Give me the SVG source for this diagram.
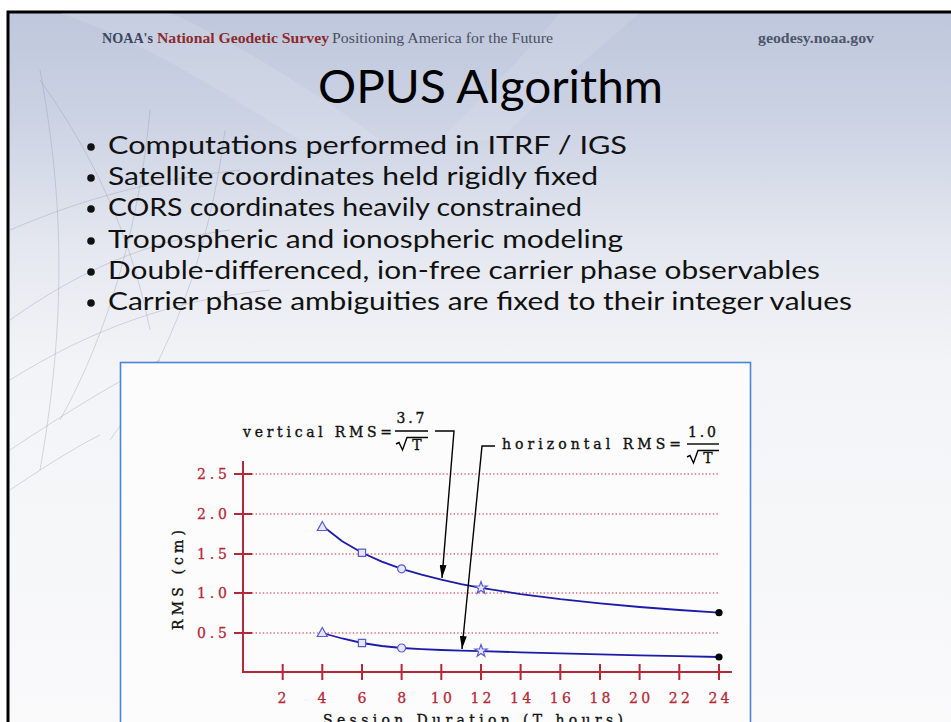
<svg xmlns="http://www.w3.org/2000/svg" width="951" height="722" viewBox="0 0 951 722">
  <defs>
    <linearGradient id="slideBg" x1="0" y1="0" x2="0" y2="1" gradientUnits="objectBoundingBox">
      <stop offset="0" stop-color="#bec7dc"/>
      <stop offset="0.14" stop-color="#cbd2e3"/>
      <stop offset="0.32" stop-color="#e5e8f0"/>
      <stop offset="0.48" stop-color="#f3f4f7"/>
      <stop offset="1" stop-color="#fafafb"/>
    </linearGradient>
    <marker id="arrowHead" markerUnits="userSpaceOnUse" markerWidth="13" markerHeight="7" refX="13" refY="3.5" orient="auto">
      <path d="M0,0 L13,3.5 L0,7 z" fill="#000"/>
    </marker>
    <path id="triMark" d="M0,-5 L5,4 L-5,4 z"/>
    <path id="sqMark" d="M-3.6,-3.6 H3.6 V3.6 H-3.6 z"/>
    <circle id="circMark" r="4"/>
    <polygon id="starMark" points="0,-6.5 1.53,-2.1 6.18,-2.01 2.47,0.8 3.82,5.26 0,2.6 -3.82,5.26 -2.47,0.8 -6.18,-2.01 -1.53,-2.1"/>
  </defs>
  <style>
    .hdr { font-family: "Liberation Serif", "DejaVu Serif", serif; font-size: 15px; }
    .bul { font-family: Lato, "Open Sans", "Liberation Sans", sans-serif; font-size: 25px; fill: #111; }
    .dot { fill: #111; }
    .globe { fill: none; stroke: #8f97aa; stroke-width: 0.8; opacity: 0.45; }
    .ctxt { font-family: "DejaVu Serif", "Liberation Serif", serif; font-size: 14px; fill: #111; stroke: #111; stroke-width: 0.35; }
    .num { font-family: "DejaVu Serif", "Liberation Serif", serif; font-size: 14px; fill: #b52838; stroke: #b52838; stroke-width: 0.3; }
    .axis { stroke: #b52838; stroke-width: 2; fill: none; }
    .grid { stroke: #c8283f; stroke-width: 1.1; stroke-dasharray: 1.4 2.2; fill: none; }
    .curve { stroke: #1c1ca8; stroke-width: 1.8; fill: none; }
    .mk { fill: #e6e6fb; stroke: #5a5ad2; stroke-width: 1.2; }
    .end { fill: #000; }
    .lead { stroke: #000; stroke-width: 1.4; fill: none; }
  </style>

  <rect width="951" height="722" fill="#fff"/>

  <!-- slide frame and background -->
  <g id="slide">
    <rect x="8" y="12" width="960" height="740" fill="url(#slideBg)" stroke="#000" stroke-width="3"/>
    <path d="M60,13 C140,40 220,90 300,140 L380,140 C300,80 220,35 170,13 z" fill="#fff" opacity="0.12"/>
    <path d="M560,13 C520,60 480,100 440,140 L500,140 C540,100 590,55 640,13 z" fill="#fff" opacity="0.10"/>
    <g id="globe-lines">
      <path class="globe" d="M40,70 C60,180 70,300 40,470"/>
      <path class="globe" d="M150,110 C140,220 110,330 60,420"/>
      <path class="globe" d="M225,130 C210,250 170,360 110,440"/>
      <path class="globe" d="M10,320 C80,270 150,240 230,230"/>
      <path class="globe" d="M10,380 C90,330 170,300 270,290"/>
      <path class="globe" d="M10,450 C70,410 120,380 160,360"/>
      <path class="globe" d="M10,490 C40,470 70,450 100,435"/>
      <path class="globe" d="M10,230 C80,200 150,180 240,170"/>
      <path class="globe" d="M40,80 C90,150 130,230 150,330"/>
    </g>
  </g>

  <!-- header line -->
  <g id="header">
    <text class="hdr" x="102" y="43" font-weight="bold" fill="#3e4560" textLength="51" lengthAdjust="spacingAndGlyphs">NOAA's</text>
    <text class="hdr" x="157" y="43" font-weight="bold" fill="#8c2a2c" textLength="172" lengthAdjust="spacingAndGlyphs">National Geodetic Survey</text>
    <text class="hdr" x="332" y="43" fill="#4a4f60" textLength="221" lengthAdjust="spacingAndGlyphs">Positioning America for the Future</text>
    <text class="hdr" x="758" y="43" font-weight="bold" fill="#4f566c" textLength="116" lengthAdjust="spacingAndGlyphs">geodesy.noaa.gov</text>
  </g>

  <g id="title">
    <text x="318" y="103" font-family="Lato, 'Open Sans', 'Liberation Sans', sans-serif" font-size="46" fill="#000" textLength="345" lengthAdjust="spacingAndGlyphs">OPUS Algorithm</text>
  </g>

  <!-- bullet list -->
  <g id="bullets">
    <circle class="dot" cx="91" cy="147" r="3.8"/>
    <text class="bul" x="108" y="154" textLength="519" lengthAdjust="spacingAndGlyphs">Computations performed in ITRF / IGS</text>
    <circle class="dot" cx="91" cy="178" r="3.8"/>
    <text class="bul" x="108" y="185" textLength="490" lengthAdjust="spacingAndGlyphs">Satellite coordinates held rigidly fixed</text>
    <circle class="dot" cx="91" cy="209" r="3.8"/>
    <text class="bul" x="108" y="216" textLength="474" lengthAdjust="spacingAndGlyphs">CORS coordinates heavily constrained</text>
    <circle class="dot" cx="91" cy="241" r="3.8"/>
    <text class="bul" x="108" y="248" textLength="515" lengthAdjust="spacingAndGlyphs">Tropospheric and ionospheric modeling</text>
    <circle class="dot" cx="91" cy="272" r="3.8"/>
    <text class="bul" x="108" y="279" textLength="712" lengthAdjust="spacingAndGlyphs">Double-differenced, ion-free carrier phase observables</text>
    <circle class="dot" cx="91" cy="303" r="3.8"/>
    <text class="bul" x="108" y="310" textLength="744" lengthAdjust="spacingAndGlyphs">Carrier phase ambiguities are fixed to their integer values</text>
  </g>

  <!-- RMS vs session duration chart -->
  <g id="chart">
    <rect x="120.5" y="362.5" width="630" height="400" fill="#fcfcfd" stroke="#4b86d6" stroke-width="1.6"/>

    <g id="grid">
      <line class="grid" x1="252" y1="474" x2="720" y2="474"/>
      <line class="grid" x1="252" y1="514" x2="720" y2="514"/>
      <line class="grid" x1="252" y1="554" x2="720" y2="554"/>
      <line class="grid" x1="252" y1="593" x2="720" y2="593"/>
      <line class="grid" x1="252" y1="633" x2="720" y2="633"/>
    </g>

    <g id="axes">
      <path class="axis" d="M243,461 V672 H732"/>
      <path class="axis" d="M234,474 H252 M234,514 H252 M234,554 H252 M234,593 H252 M234,633 H252"/>
      <path class="axis" d="M282.7,664 V680 M322.3,664 V680 M362,664 V680 M401.6,664 V680 M441.3,664 V680 M481,664 V680 M520.6,664 V680 M560.3,664 V680 M600,664 V680 M639.6,664 V680 M679.3,664 V680 M719,664 V680"/>
    </g>

    <g id="y-labels">
      <text class="num" x="212" y="479" text-anchor="middle" textLength="30" lengthAdjust="spacing">2.5</text>
      <text class="num" x="212" y="519" text-anchor="middle" textLength="30" lengthAdjust="spacing">2.0</text>
      <text class="num" x="212" y="559" text-anchor="middle" textLength="30" lengthAdjust="spacing">1.5</text>
      <text class="num" x="212" y="598" text-anchor="middle" textLength="30" lengthAdjust="spacing">1.0</text>
      <text class="num" x="212" y="638" text-anchor="middle" textLength="30" lengthAdjust="spacing">0.5</text>
    </g>

    <g id="x-labels">
      <text class="num" x="282" y="703" text-anchor="middle">2</text>
      <text class="num" x="322" y="703" text-anchor="middle">4</text>
      <text class="num" x="362" y="703" text-anchor="middle">6</text>
      <text class="num" x="401.6" y="703" text-anchor="middle">8</text>
      <text class="num" x="441.3" y="703" text-anchor="middle" textLength="21" lengthAdjust="spacing">10</text>
      <text class="num" x="481" y="703" text-anchor="middle" textLength="21" lengthAdjust="spacing">12</text>
      <text class="num" x="520.6" y="703" text-anchor="middle" textLength="21" lengthAdjust="spacing">14</text>
      <text class="num" x="560.3" y="703" text-anchor="middle" textLength="21" lengthAdjust="spacing">16</text>
      <text class="num" x="600" y="703" text-anchor="middle" textLength="21" lengthAdjust="spacing">18</text>
      <text class="num" x="639.6" y="703" text-anchor="middle" textLength="21" lengthAdjust="spacing">20</text>
      <text class="num" x="679.3" y="703" text-anchor="middle" textLength="21" lengthAdjust="spacing">22</text>
      <text class="num" x="719" y="703" text-anchor="middle" textLength="21" lengthAdjust="spacing">24</text>
    </g>

    <text class="ctxt" x="323" y="725" textLength="300" lengthAdjust="spacing">Session Duration (T hours)</text>
    <text class="ctxt" transform="translate(183,580) rotate(-90)" text-anchor="middle" textLength="100" lengthAdjust="spacing">RMS (cm)</text>

    <!-- vertical RMS = 3.7 / sqrt(T) -->
    <g id="vertical-series">
      <polyline class="curve" points="322.3,525.7 342.2,541.2 362,552.7 381.8,561.6 401.6,568.8 421.5,574.7 441.3,579.7 461.1,584.1 481,587.8 520.6,594.1 560.3,599.2 600,603.4 639.6,607 679.3,610 719,612.7"/>
      <use href="#triMark" class="mk" x="322.3" y="526.5"/>
      <use href="#sqMark" class="mk" x="362" y="552.7"/>
      <use href="#circMark" class="mk" x="401.6" y="568.8"/>
      <use href="#starMark" class="mk" x="481" y="588"/>
      <circle class="end" cx="719" cy="612.7" r="3.6"/>
    </g>

    <!-- horizontal RMS = 1.0 / sqrt(T) -->
    <g id="horizontal-series">
      <polyline class="curve" points="322.3,633 342.2,638.5 362,643 381.8,646 401.6,648 421.5,649.2 441.3,650 461.1,650.6 481,651.2 520.6,652.3 560.3,653.4 600,654.4 639.6,655.3 679.3,656.2 719,657"/>
      <use href="#triMark" class="mk" x="322.3" y="632.5"/>
      <use href="#sqMark" class="mk" x="362" y="643"/>
      <use href="#circMark" class="mk" x="401.6" y="648"/>
      <use href="#starMark" class="mk" x="481" y="651"/>
      <circle class="end" cx="719" cy="657" r="3.6"/>
    </g>

    <g id="vertical-label">
      <text class="ctxt" x="243" y="437" textLength="149" lengthAdjust="spacing">vertical RMS=</text>
      <text class="ctxt" x="410.5" y="423" text-anchor="middle" textLength="28" lengthAdjust="spacing">3.7</text>
      <line class="lead" x1="395" y1="431" x2="428" y2="431"/>
      <path class="lead" d="M396,444 L399,442.5 L402.5,450 L407,437.5 L428,437.5" stroke-width="1.1"/>
      <text class="ctxt" x="417" y="450" text-anchor="middle">T</text>
    </g>

    <g id="horizontal-label">
      <text class="ctxt" x="502" y="449" textLength="179" lengthAdjust="spacing">horizontal RMS=</text>
      <text class="ctxt" x="702" y="437" text-anchor="middle" textLength="28" lengthAdjust="spacing">1.0</text>
      <line class="lead" x1="687" y1="444" x2="719" y2="444"/>
      <path class="lead" d="M687,457 L690,455.5 L693.5,463 L698,450.5 L719,450.5" stroke-width="1.1"/>
      <text class="ctxt" x="708" y="463" text-anchor="middle">T</text>
    </g>
  </g>

  <!-- leader arrows from formulas to curves -->
  <g id="connectors">
    <polyline class="lead" points="435,431 454,431 442,578" marker-end="url(#arrowHead)"/>
    <polyline class="lead" points="495,446 482,446 462,649" marker-end="url(#arrowHead)"/>
  </g>
</svg>
